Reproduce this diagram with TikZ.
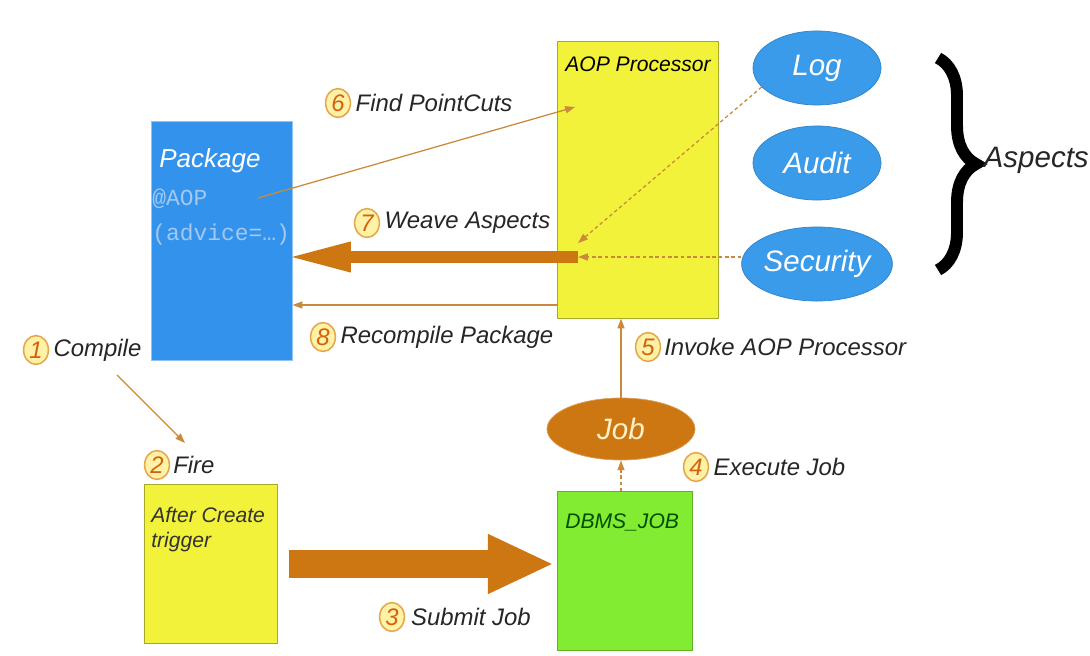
\documentclass[tikz,border=0pt]{standalone}
\usepackage{fontspec}
\setmainfont{Liberation Sans}
\newfontfamily\codefont{Liberation Mono}
\usetikzlibrary{arrows.meta,positioning,shapes.geometric,decorations.pathreplacing}
\definecolor{PkgBlue}{HTML}{3393EC}
\definecolor{AspBlue}{HTML}{3A9BEA}
\definecolor{ProcYellow}{HTML}{F2F23A}
\definecolor{JobGreen}{HTML}{82EC32}
\definecolor{FlowOrange}{HTML}{CC7712}
\definecolor{LineOrange}{HTML}{C98A3C}
\definecolor{NumFill}{HTML}{FFF1A6}
\definecolor{NumRing}{HTML}{E6A64A}
\definecolor{NumText}{HTML}{D2620E}
\definecolor{CodeGrey}{HTML}{A3C8F0}
\definecolor{JobText}{HTML}{FFF0C8}
\newcommand{\lblfont}{\fontsize{17}{20}\selectfont\itshape}

\begin{document}
\begin{tikzpicture}[x=0.025cm,y=-0.025cm,
box/.style={rectangle,line width=0.7pt,inner sep=0pt},
boxtxt/.style={anchor=base west,inner sep=0pt,font=\fontsize{15}{18}\selectfont\itshape},
code/.style={anchor=base west,inner sep=0pt,text=CodeGrey,font=\fontsize{16.3}{19}\selectfont\codefont},
aspect/.style={ellipse,fill=AspBlue,draw=AspBlue!85!black,line width=0.5pt,minimum width=3.2cm,minimum height=1.85cm,inner sep=0pt,text=white,font=\fontsize{21}{24}\selectfont\itshape},
num/.style={ellipse,fill=NumFill,draw=NumRing,line width=1.1pt,minimum width=0.62cm,minimum height=0.72cm,inner sep=0pt,text=NumText,font=\lblfont},
lbl/.style={inner sep=1pt,text=black!85,font=\lblfont},
thin/.style={-{Triangle[length=7pt,width=5pt]},draw=LineOrange,line width=0.9pt},
dotflow/.style={thin,dash pattern=on 2.5pt off 2pt},
fat/.style={-{Triangle[length=47pt,width=19pt]},draw=FlowOrange,line width=9pt},
bigflow/.style={-{Triangle[length=47pt,width=39pt]},draw=FlowOrange,line width=20.5pt}
]
\fill[white] (0,0) rectangle (1090,656);
\useasboundingbox (0,0) rectangle (1090,656);

% boxes
\node[box,fill=PkgBlue,draw=PkgBlue!55!white,minimum width=3.5cm,minimum height=5.95cm] (pkg) at (222,241) {};
\node[box,fill=ProcYellow,draw=ProcYellow!70!black,minimum width=4cm,minimum height=6.9cm] (aop) at (638,180) {};
\node[box,fill=ProcYellow,draw=ProcYellow!70!black,minimum width=3.3cm,minimum height=3.95cm] (trig) at (211,564) {};
\node[box,fill=JobGreen,draw=JobGreen!75!black,minimum width=3.35cm,minimum height=3.95cm] (dbms) at (625,571) {};

\node[boxtxt,text=white,font=\fontsize{18.5}{22}\selectfont\itshape] (pkgT) at (159,168) {Package};
\node[code] (pkgA) at (152,205) {@AOP};
\node[code] (pkgB) at (152,240) {(advice=…)};
\node[boxtxt] (aopT) at (565,72) {AOP Processor};
\node[boxtxt,text=black!80] (trigA) at (151,522) {After Create};
\node[boxtxt,text=black!80] (trigB) at (151,547) {trigger};
\node[boxtxt,text=green!30!black] (dbmsT) at (565,528) {DBMS\_JOB};

% aspects
\node[aspect] (log) at (817,68) {Log};
\node[aspect] (audit) at (817,163) {Audit};
\node[aspect] (sec) at (817,264) {Security};
\node[aspect,fill=FlowOrange,draw=FlowOrange!70!white,text=JobText,minimum width=3.7cm,minimum height=1.55cm] (job) at (621,429) {Job};

\draw[line width=8.5pt,decorate,decoration={brace,amplitude=0.95cm}] (938,58) -- (938,270);
\node[lbl,anchor=west,font=\fontsize{21}{24}\selectfont\itshape] (aspT) at (982,160) {Aspects};

% steps
\node[num] (n1) at (36,350) {1};
\node[lbl,right=2pt of n1] (l1) {Compile};
\node[num] (n2) at (157,465) {2};
\node[lbl,right=1pt of n2] (l2) {Fire};
\node[num] (n3) at (392,617) {3};
\node[lbl,right=3pt of n3] (l3) {Submit Job};
\node[num] (n4) at (696,467) {4};
\node[lbl,right=2pt of n4] (l4) {Execute Job};
\node[num] (n5) at (648,347) {5};
\node[lbl,right=1pt of n5] (l5) {Invoke AOP Processor};
\node[num] (n6) at (338,103) {6};
\node[lbl,right=2pt of n6] (l6) {Find PointCuts};
\node[num] (n7) at (367,223) {7};
\node[lbl,right=2pt of n7] (l7) {Weave Aspects};
\node[num] (n8) at (323,337) {8};
\node[lbl,right=2pt of n8] (l8) {Recompile Package};

% connectors
\coordinate (pcS) at (258,198);
\coordinate (pcE) at (575,107);
\coordinate (wv) at (578,257);
\coordinate (wvL) at (578,243);
\coordinate (rc) at (558,305);
\coordinate (cpS) at (117,375);
\coordinate (cpE) at (185,443);
\draw[thin] (pcS) -- (pcE);
\draw[fat,shorten >=-5.5pt] (wv) -- (wv -| pkg.east);
\draw[dotflow] (log.199) -- (wvL);
\draw[dotflow] (sec.west |- wv) -- (wv);
\draw[thin] (rc) -- (rc -| pkg.east);
\draw[thin] (cpS) -- (cpE);
\draw[bigflow,shorten <=8pt,shorten >=2.5pt] (trig.east) -- (trig.east -| dbms.west);
\draw[dotflow] (job.south |- dbms.north) -- (job.south);
\draw[thin] (job.north) -- (job.north |- aop.south);
\end{tikzpicture}
\end{document}
